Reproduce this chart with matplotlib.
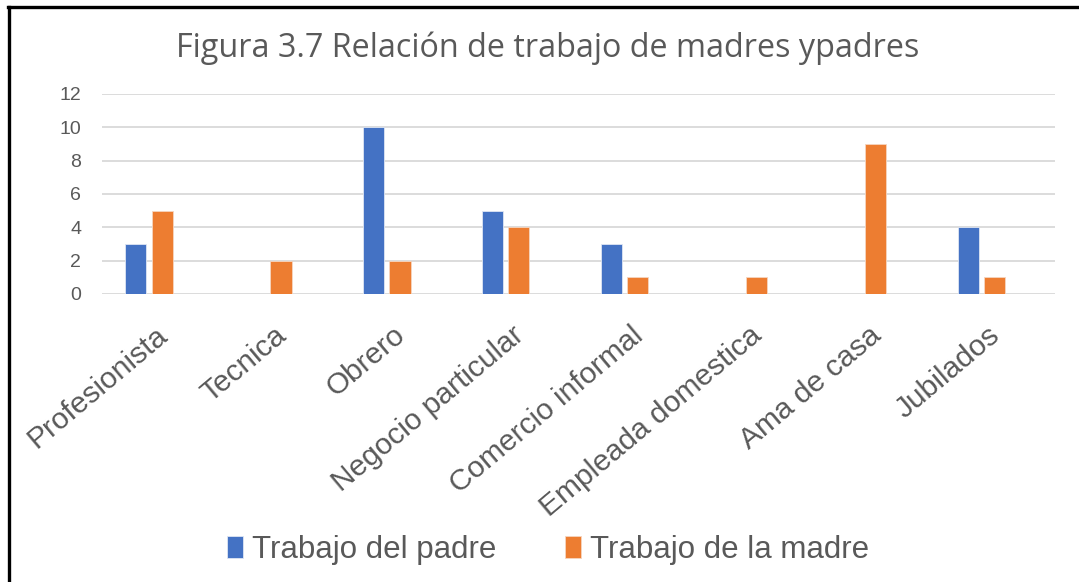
import matplotlib
matplotlib.use("Agg")
import matplotlib.pyplot as plt
import matplotlib.transforms as mtransforms
from matplotlib.lines import Line2D
import numpy as np

# data
categorias = ["Profesionista", "Tecnica", "Obrero", "Negocio particular",
              "Comercio informal", "Empleada domestica", "Ama de casa", "Jubilados"]
padre = [3, 0, 10, 5, 3, 0, 0, 4]
madre = [5, 2, 2, 4, 1, 1, 9, 1]
series_names = ["Trabajo del padre", "Trabajo de la madre"]
titulo = "Figura 3.7 Relación de trabajo de madres ypadres"

azul = "#4472C4"
naranja = "#ED7D31"
gris = "#595959"

W, H = 1079, 582
fig = plt.figure(figsize=(W / 100, H / 100), dpi=100)
fig.patch.set_facecolor("white")

ax = fig.add_axes([102 / W, 1 - 294 / H, (1055 - 102) / W, 200 / H])

x = np.arange(len(categorias))
bw = 0.178
off = 0.111
ax.bar(x - off, padre, bw, color=azul, edgecolor="#dfe6f3", linewidth=0.6,
       label=series_names[0], zorder=3)
ax.bar(x + off, madre, bw, color=naranja, edgecolor="#f6d6c0", linewidth=0.6,
       label=series_names[1], zorder=3)

ax.set_ylim(0, 12)
ax.set_xlim(-0.395, 7.62)
ax.set_yticks(range(0, 13, 2))
ax.yaxis.grid(True, color="#d9d9d9", linewidth=1.3, zorder=0)
ax.set_axisbelow(True)
for s in ax.spines.values():
    s.set_visible(False)
ax.tick_params(axis="both", length=0)
ax.tick_params(axis="y", labelsize=14, labelcolor=gris, pad=15)
for lab in ax.get_yticklabels():
    lab.set_fontfamily("Liberation Sans")

ax.set_xticks(x)
ax.set_xticklabels(categorias, rotation=40, ha="right", rotation_mode="anchor",
                   fontsize=21.5, color=gris, family="Liberation Sans")
shift = mtransforms.ScaledTranslation(6 / 100, -22 / 100, fig.dpi_scale_trans)
for lab in ax.get_xticklabels():
    lab.set_transform(lab.get_transform() + shift)

fig.text(548 / W, 1 - 48 / H, titulo, ha="center", va="center",
         fontsize=23.3, color=gris, family=["Open Sans", "DejaVu Sans"])

leg = fig.legend(loc="center", bbox_to_anchor=(548 / W, 1 - 550 / H), ncol=2,
                 frameon=False, handlelength=0.5, handleheight=0.7,
                 handletextpad=0.3, columnspacing=2.2,
                 prop={"family": "Liberation Sans", "size": 22.5})
for t in leg.get_texts():
    t.set_color(gris)

# black frame of the pasted chart
fig.add_artist(Line2D([9 / W, 9 / W], [0, 1 - 7 / H], color="black", linewidth=2.4,
                      transform=fig.transFigure))
fig.add_artist(Line2D([8 / W, 1], [1 - 7 / H, 1 - 7 / H], color="black", linewidth=2.4,
                      transform=fig.transFigure))

fig.savefig("out.png", dpi=100, facecolor="white")
